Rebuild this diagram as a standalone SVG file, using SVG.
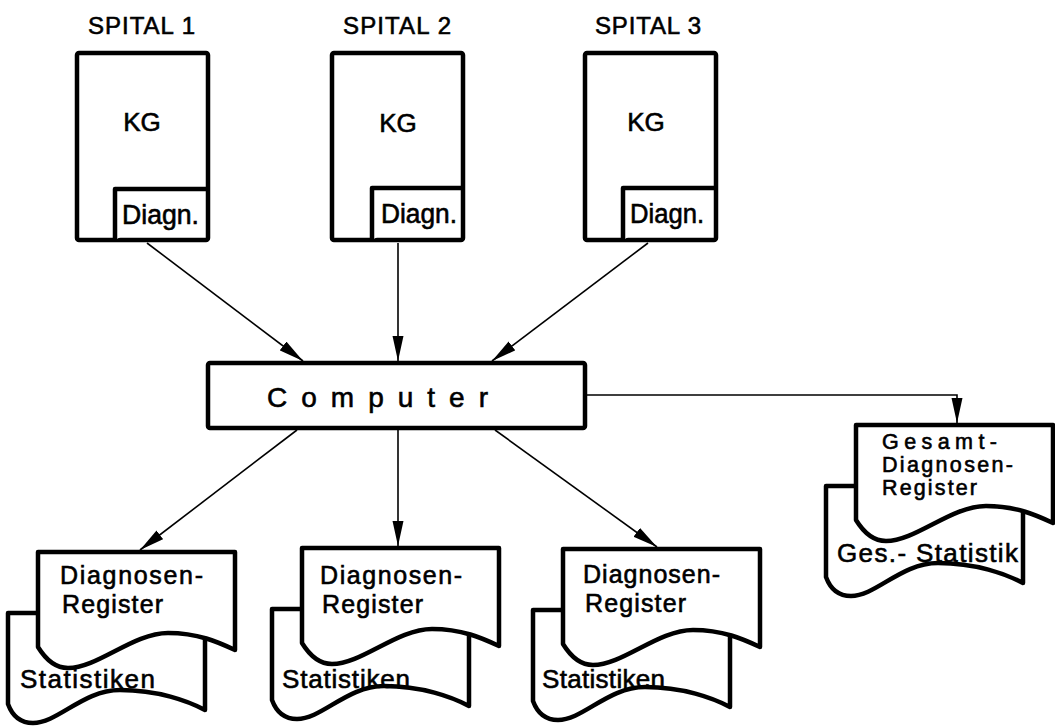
<svg xmlns="http://www.w3.org/2000/svg" width="1055" height="726" viewBox="0 0 1055 726">
<style>
.box{fill:#fff;stroke:#000;stroke-width:4.5;stroke-linejoin:round}
.doc{fill:#fff;stroke:#000;stroke-width:4.5;stroke-linejoin:round}
.t{font-family:"Liberation Sans","DejaVu Sans",sans-serif;fill:#000;stroke:#000;stroke-width:0.6}
.con{fill:none;stroke:#000;stroke-width:1.6}
</style>
<defs>
<marker id="ah" markerUnits="userSpaceOnUse" markerWidth="26" markerHeight="12" refX="25" refY="5.5" orient="auto">
<path d="M0,0 L25,5.5 L0,11 Z" fill="#000"/>
</marker>
<g id="stack">
<path class="doc" d="M-30,61 L167,61 L167,158 C150,149 120,138 82,138 C45,138 20,171 -5,171 C-18,171 -26,163 -30,152 Z"/>
<path class="doc" d="M0,0 L197,0 L197,98 C180,90 160,81 130,81 C95,81 60,116 30,116 C18,116 8,108 0,95 Z"/>
</g>
</defs>
<rect width="1055" height="726" fill="#fff"/>

<g id="spital1">
<text class="t" x="88" y="34" font-size="24" textLength="107" lengthAdjust="spacing">SPITAL 1</text>
<rect class="box" x="77" y="53" width="131" height="187" rx="2"/>
<path class="box" d="M115,240 L115,189 L208,189"/>
<text class="t" x="142" y="131" font-size="26" text-anchor="middle">KG</text>
<text class="t" x="122" y="224" font-size="27" textLength="77" lengthAdjust="spacingAndGlyphs">Diagn.</text>
</g>
<g id="spital2">
<text class="t" x="343" y="34" font-size="24" textLength="108" lengthAdjust="spacing">SPITAL 2</text>
<rect class="box" x="332" y="53" width="131" height="187" rx="2"/>
<path class="box" d="M372,240 L372,188 L463,188"/>
<text class="t" x="398" y="132" font-size="26" text-anchor="middle">KG</text>
<text class="t" x="381" y="223" font-size="27" textLength="76" lengthAdjust="spacingAndGlyphs">Diagn.</text>
</g>
<g id="spital3">
<text class="t" x="595" y="34" font-size="24" textLength="106" lengthAdjust="spacing">SPITAL 3</text>
<rect class="box" x="585" y="53" width="131" height="187" rx="2"/>
<path class="box" d="M623,240 L623,188 L716,188"/>
<text class="t" x="646" y="131" font-size="26" text-anchor="middle">KG</text>
<text class="t" x="630" y="223" font-size="27" textLength="74" lengthAdjust="spacingAndGlyphs">Diagn.</text>
</g>

<g id="computer">
<rect class="box" x="208" y="363" width="377" height="65" rx="2"/>
<text class="t" x="267" y="407" font-size="28" textLength="221" lengthAdjust="spacing">Computer</text>
</g>

<g id="connectors">
<line class="con" x1="147" y1="243" x2="303" y2="361" marker-end="url(#ah)"/>
<line class="con" x1="398" y1="243" x2="398" y2="361" marker-end="url(#ah)"/>
<line class="con" x1="648" y1="243" x2="492" y2="361" marker-end="url(#ah)"/>
<line class="con" x1="297" y1="430" x2="140" y2="550" marker-end="url(#ah)"/>
<line class="con" x1="398" y1="430" x2="398" y2="546" marker-end="url(#ah)"/>
<line class="con" x1="495" y1="430" x2="657" y2="547" marker-end="url(#ah)"/>
<path class="con" d="M587,395 L957,395 L957,423" marker-end="url(#ah)"/>
</g>

<g id="register1">
<use href="#stack" x="38" y="552"/>
<text class="t" x="60" y="584" font-size="25" textLength="143" lengthAdjust="spacing">Diagnosen-</text>
<text class="t" x="62" y="613" font-size="25" textLength="101" lengthAdjust="spacing">Register</text>
<text class="t" x="20" y="688" font-size="26" textLength="135" lengthAdjust="spacing">Statistiken</text>
</g>
<g id="register2">
<use href="#stack" x="302" y="548"/>
<text class="t" x="320" y="584" font-size="25" textLength="142" lengthAdjust="spacing">Diagnosen-</text>
<text class="t" x="322" y="613" font-size="25" textLength="101" lengthAdjust="spacing">Register</text>
<text class="t" x="282" y="688" font-size="26" textLength="128" lengthAdjust="spacing">Statistiken</text>
</g>
<g id="register3">
<use href="#stack" x="563" y="549"/>
<text class="t" x="583" y="583" font-size="25" textLength="137" lengthAdjust="spacing">Diagnosen-</text>
<text class="t" x="585" y="612" font-size="25" textLength="101" lengthAdjust="spacing">Register</text>
<text class="t" x="542" y="688" font-size="26" textLength="123" lengthAdjust="spacing">Statistiken</text>
</g>
<g id="gesamtregister">
<use href="#stack" x="856" y="425"/>
<text class="t" x="882" y="449" font-size="21.5" textLength="115" lengthAdjust="spacing">Gesamt-</text>
<text class="t" x="882" y="472" font-size="21.5" textLength="131" lengthAdjust="spacing">Diagnosen-</text>
<text class="t" x="882" y="495" font-size="21.5" textLength="95" lengthAdjust="spacing">Register</text>
<text class="t" x="837" y="562" font-size="26" textLength="181" lengthAdjust="spacing">Ges.- Statistik</text>
</g>
</svg>
